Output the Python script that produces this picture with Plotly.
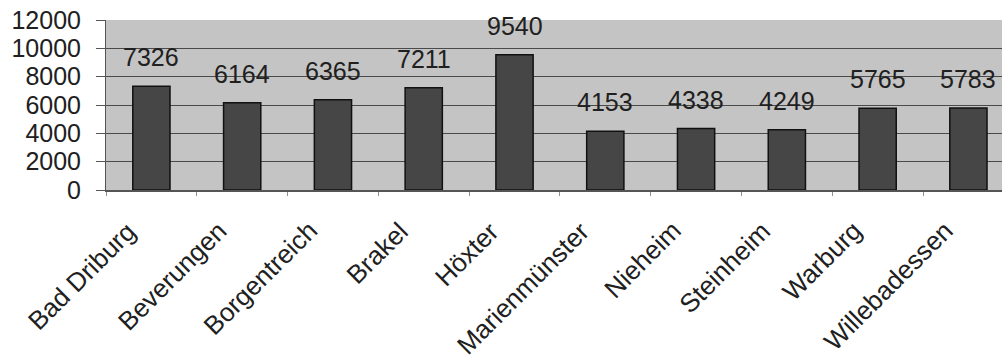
import plotly.graph_objects as go

# Einwohnerzahlen der Städte im Kreis Höxter
staedte = ["Bad Driburg", "Beverungen", "Borgentreich", "Brakel", "Höxter",
           "Marienmünster", "Nieheim", "Steinheim", "Warburg", "Willebadessen"]
einwohner = [7326, 6164, 6365, 7211, 9540, 4153, 4338, 4249, 5765, 5783]
y_ticks = [0, 2000, 4000, 6000, 8000, 10000, 12000]

FONT = "Liberation Sans, Arial, sans-serif"

fig = go.Figure()
fig.add_trace(go.Bar(
    x=staedte,
    y=einwohner,
    marker=dict(color="#464646", line=dict(color="#111111", width=1.5)),
    showlegend=False,
))

# Wertbeschriftungen über den Säulen
for name, wert in zip(staedte, einwohner):
    fig.add_annotation(
        x=name, y=wert, text=str(wert), showarrow=False,
        yanchor="middle", yshift=29,
        font=dict(family=FONT, size=25, color="#202020"),
    )

# Schräg gestellte Städtenamen unter der Achse
for name in staedte:
    fig.add_annotation(
        x=name, xref="x", y=0, yref="paper", text=name, showarrow=False,
        textangle=-45, xanchor="right", yanchor="top",
        xshift=-7, yshift=-23,
        font=dict(family=FONT, size=26, color="#202020"),
    )

fig.update_layout(
    width=1002, height=358,
    margin=dict(l=106, r=0, t=20, b=168),
    paper_bgcolor="white",
    plot_bgcolor="#c4c4c4",
    bargap=0.59,
    font=dict(family=FONT, color="#202020"),
)
fig.update_xaxes(
    type="category",
    range=[-0.5, 9.37],
    showticklabels=False,
    ticks="outside", tickson="boundaries", ticklen=4, tickcolor="#909090",
    showline=True, linecolor="#555555", linewidth=2,
    showgrid=False,
)
fig.update_yaxes(
    range=[0, 12000],
    tickvals=y_ticks,
    ticktext=[str(v) for v in y_ticks],
    tickfont=dict(family=FONT, size=25, color="#202020"),
    ticks="outside", ticklen=9, tickcolor="#555555",
    ticklabelstandoff=10,
    showgrid=True, gridcolor="#4a4a4a", gridwidth=1,
    showline=True, linecolor="#555555", linewidth=1,
    zeroline=False,
)

fig.write_html("out.html")
